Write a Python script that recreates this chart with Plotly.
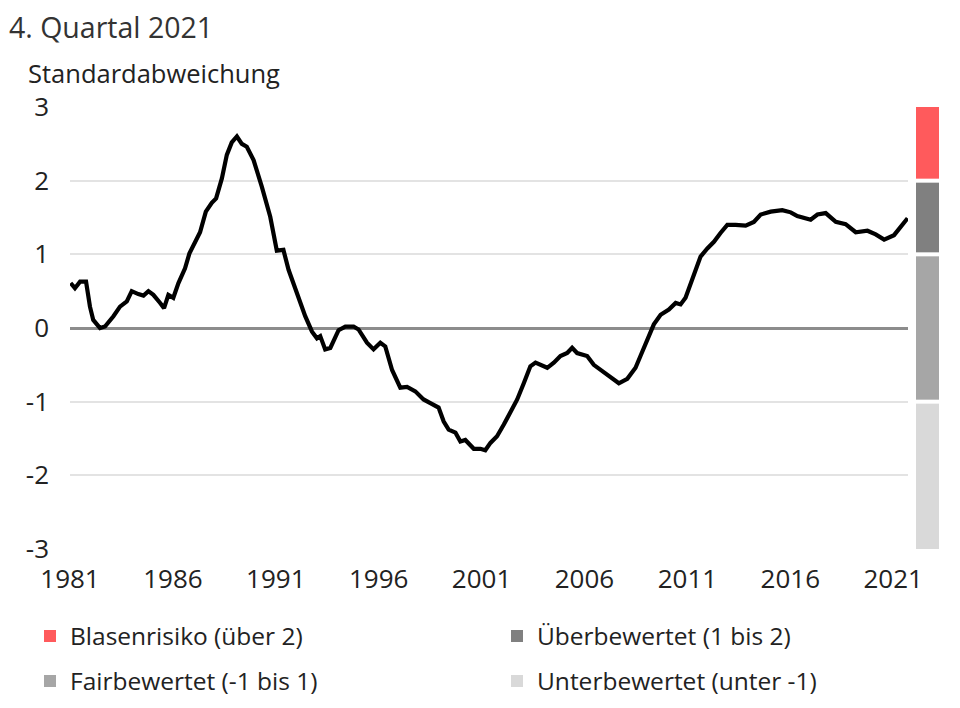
import plotly.graph_objects as go

# ---- data ----
years = [1981.03, 1981.24, 1981.49, 1981.78, 1981.97, 1982.13, 1982.46, 1982.70, 1983.11, 1983.43,
         1983.76, 1984.00, 1984.32, 1984.57, 1984.81, 1985.05, 1985.38, 1985.57, 1985.78, 1986.02,
         1986.27, 1986.59, 1986.80, 1987.32, 1987.60, 1987.89, 1988.10, 1988.38, 1988.62, 1988.86,
         1989.11, 1989.35, 1989.59, 1989.92, 1990.32, 1990.73, 1991.05, 1991.37, 1991.62, 1992.03,
         1992.43, 1992.76, 1993.00, 1993.16, 1993.40, 1993.65, 1994.05, 1994.38, 1994.78, 1995.02,
         1995.43, 1995.75, 1996.08, 1996.32, 1996.65, 1997.05, 1997.38, 1997.78, 1998.18, 1998.51,
         1998.91, 1999.16, 1999.40, 1999.73, 1999.97, 2000.21, 2000.62, 2000.94, 2001.18, 2001.43,
         2001.75, 2002.08, 2002.40, 2002.73, 2003.05, 2003.37, 2003.62, 2003.86, 2004.19, 2004.51,
         2004.83, 2005.16, 2005.40, 2005.64, 2006.13, 2006.45, 2006.78, 2007.26, 2007.67, 2008.08,
         2008.48, 2008.72, 2009.05, 2009.37, 2009.70, 2010.10, 2010.43, 2010.67, 2010.91, 2011.24,
         2011.64, 2011.97, 2012.29, 2012.61, 2012.94, 2013.34, 2013.83, 2014.23, 2014.56, 2015.05,
         2015.61, 2016.02, 2016.34, 2016.99, 2017.32, 2017.72, 2018.21, 2018.69, 2019.18, 2019.75,
         2020.15, 2020.56, 2021.04, 2021.70]
values = [0.61, 0.54, 0.63, 0.63, 0.29, 0.11, 0.00, 0.02, 0.16, 0.29,
          0.36, 0.50, 0.46, 0.44, 0.50, 0.45, 0.34, 0.27, 0.45, 0.41,
          0.61, 0.81, 1.01, 1.30, 1.58, 1.70, 1.76, 2.03, 2.35, 2.52,
          2.60, 2.50, 2.46, 2.28, 1.92, 1.51, 1.05, 1.06, 0.79, 0.47,
          0.16, -0.05, -0.14, -0.11, -0.29, -0.27, -0.03, 0.02, 0.02, -0.02,
          -0.20, -0.29, -0.20, -0.25, -0.57, -0.81, -0.80, -0.86, -0.97, -1.02,
          -1.08, -1.27, -1.38, -1.42, -1.54, -1.52, -1.64, -1.64, -1.66, -1.56,
          -1.47, -1.31, -1.13, -0.97, -0.75, -0.52, -0.47, -0.50, -0.54, -0.47,
          -0.38, -0.34, -0.27, -0.34, -0.38, -0.50, -0.57, -0.68, -0.75, -0.69,
          -0.54, -0.38, -0.16, 0.05, 0.18, 0.25, 0.34, 0.32, 0.41, 0.65,
          0.97, 1.08, 1.17, 1.29, 1.40, 1.40, 1.39, 1.44, 1.54, 1.58,
          1.60, 1.57, 1.52, 1.47, 1.54, 1.56, 1.44, 1.41, 1.30, 1.32,
          1.27, 1.20, 1.26, 1.49]

band_names = ["Blasenrisiko (über 2)", "Überbewertet (1 bis 2)",
              "Fairbewertet (-1 bis 1)", "Unterbewertet (unter -1)"]
band_low = [2, 1, -1, -3]
band_high = [3, 2, 1, -1]
band_colors = ["#FF5A5C", "#808080", "#A6A6A6", "#D9D9D9"]

tick_years = [1981, 1986, 1991, 1996, 2001, 2006, 2011, 2016, 2021]
y_ticks = [-3, -2, -1, 0, 1, 2, 3]
y_tick_text = ["-3", "-2", "-1", "0", "1", "2", "3"]

title_text = "4. Quartal 2021"
y_title = "Standardabweichung"

FONT = "Open Sans"
TXT = "#222222"

# The page adds an 8 px offset (body margin); lay out in reference pixels minus that.
OFF = 8
W, H = 960, 708
plot_left, plot_right_line, band_left, band_right = 70, 908, 916, 939
plot_top, plot_bottom = 107, 549

ml = plot_left - OFF
mt = plot_top - OFF
mr = W - (band_right - OFF)
mb = H - (plot_bottom - OFF)
pw = W - ml - mr
ph = H - mt - mb


def px_x(p):
    return (p - OFF - ml) / pw


def px_y(p):
    return (H - mb - (p - OFF)) / ph


# legend slots (reference pixel position of the legend box left edge / row centre)
legend_ids = ["legend", "legend2", "legend3", "legend4"]
legend_pos = [(30, 636), (497, 636), (30, 681), (497, 681)]

fig = go.Figure()

fig.add_trace(go.Scatter(
    x=years, y=values, mode="lines",
    line=dict(color="#000000", width=4.2, shape="linear"),
    showlegend=False, hoverinfo="skip", xaxis="x", yaxis="y"))

for name, lo, hi, col, lg in zip(band_names, band_low, band_high, band_colors, legend_ids):
    fig.add_trace(go.Bar(
        x=["band"], y=[hi - lo], base=[lo], name=name,
        marker=dict(color=col, line=dict(width=0)),
        width=1, xaxis="x2", yaxis="y", legend=lg, hoverinfo="skip"))

# white separators between the bands
for thr in band_low[:-1]:
    fig.add_shape(type="line", xref="x2 domain", yref="y", x0=0, x1=1, y0=thr, y1=thr,
                  line=dict(color="white", width=4), layer="above")

legends = {}
for lg, (lx, ly) in zip(legend_ids, legend_pos):
    legends[lg] = dict(orientation="h", x=px_x(lx), xanchor="left", y=px_y(ly), yanchor="middle",
                       font=dict(size=24.5, color=TXT, family=FONT),
                       bgcolor="rgba(0,0,0,0)", itemclick=False, itemdoubleclick=False)

fig.update_layout(
    width=W, height=H,
    margin=dict(l=ml, r=mr, t=mt, b=mb, pad=0, autoexpand=False),
    paper_bgcolor="white", plot_bgcolor="white",
    font=dict(family=FONT, size=26, color=TXT),
    barmode="overlay",
    xaxis=dict(domain=[0, px_x(plot_right_line)], range=[1981, 2021.72],
               tickmode="array", tickvals=tick_years, ticktext=[str(t) for t in tick_years],
               showgrid=False, zeroline=False, showline=False, ticks="",
               ticklabelstandoff=12, tickfont=dict(size=26, color=TXT)),
    xaxis2=dict(domain=[px_x(band_left), 1.0], range=[-0.5, 0.5], visible=False, type="category"),
    yaxis=dict(range=[-3, 3], tickmode="array", tickvals=y_ticks, ticktext=y_tick_text,
               showgrid=True, gridcolor="#E3E3E3", gridwidth=2,
               zeroline=True, zerolinecolor="#8C8C8C", zerolinewidth=2.5,
               showline=False, ticks="", ticklabelstandoff=20,
               tickfont=dict(size=26, color=TXT)),
    annotations=[
        dict(text=title_text, xref="paper", yref="paper", x=px_x(8), y=px_y(27),
             xanchor="left", yanchor="middle", showarrow=False, borderpad=0,
             font=dict(size=28.5, color="#333333", family=FONT)),
        dict(text=y_title, xref="paper", yref="paper", x=px_x(26), y=px_y(73),
             xanchor="left", yanchor="middle", showarrow=False,
             font=dict(size=25.5, color=TXT, family=FONT)),
    ],
    **legends,
)

fig.write_html("out.html")
